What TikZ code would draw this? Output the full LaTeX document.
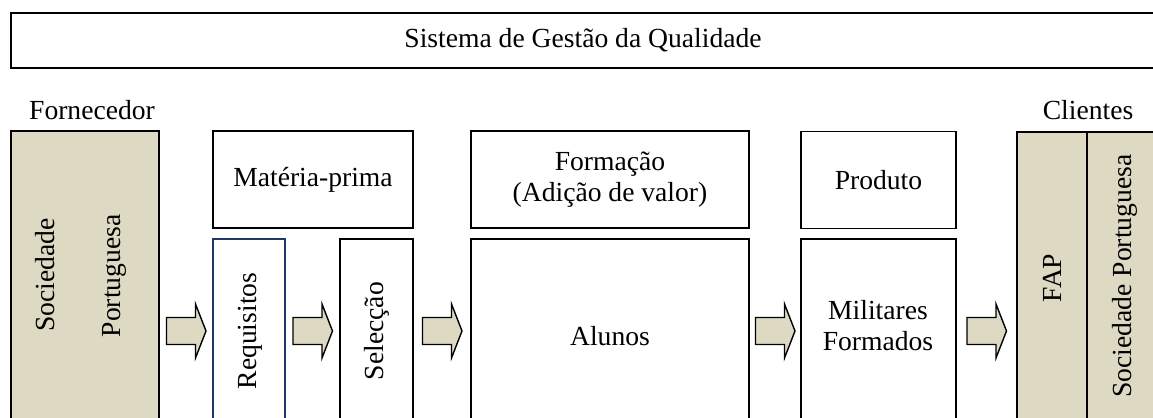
\documentclass[tikz,border=0pt]{standalone}
\usepackage{fontspec}
\setmainfont{Liberation Serif}
\usetikzlibrary{calc}

\definecolor{beige}{RGB}{221,217,195}
\definecolor{navy}{RGB}{31,56,100}

\tikzset{flowarrow/.pic={\draw[flow] (-19.5,-13.5) -- (9.5,-13.5) -- (9.5,-27) -- (20,0) -- (9.5,27) -- (9.5,13.5) -- (-19.5,13.5) -- cycle;}}

\begin{document}
\begin{tikzpicture}[x=0.5pt, y=-0.5pt, every node/.style={font=\fontsize{13.8}{15.5}\selectfont},
	box/.style={draw, line width=0.7pt, inner sep=0pt, align=center},
	client/.style={box, fill=beige},
	lbl/.style={align=center, inner sep=0pt},
	flow/.style={draw, line width=0.7pt, fill=beige, line join=miter}]
	\useasboundingbox (0,0) rectangle (1153,418);
	\clip (0,0) rectangle (1153,418);

	% Nodes
	\node[box, minimum width=572pt, minimum height=27.5pt] (sgq) at (583,40.5) {Sistema de Gestão da Qualidade};

	\node[lbl] (fornT) at (92,110) {Fornecedor};
	\node[client, minimum width=74pt, minimum height=200pt] (forn) at (85,331) {};
	\node[lbl, rotate=90] (soc) at (45,275) {Sociedade};
	\node[lbl, rotate=90] (port) at (114,276) {Portuguesa};

	\node[box, minimum width=100pt, minimum height=48.5pt] (materia) at (313,179.5) {Matéria-prima};
	\node[box, draw=navy, minimum width=36pt, minimum height=92pt] (req) at (249,331) {};
	\node[lbl, rotate=90] (reqT) at (250,331) {Requisitos};
	\node[box, minimum width=36.5pt, minimum height=92pt] (sel) at (376.5,331) {};
	\node[lbl, rotate=90] (selT) at (377,331) {Selecção};

	\node[box, minimum width=139pt, minimum height=48.5pt] (form) at (610,179.5) {Formação\\(Adição de valor)};
	\node[box, minimum width=139pt, minimum height=92pt] (alunos) at (610,331) {};
	\node[lbl] (alunosT) at (610,336) {Alunos};

	\node[box, minimum width=77.5pt, minimum height=48.5pt] (prod) at (878.5,180) {Produto};
	\node[box, minimum width=77.5pt, minimum height=92pt] (milit) at (878.5,331) {};
	\node[lbl] (militT) at (878,326) {Militares\\Formados};

	\node[lbl] (cliT) at (1088,110) {Clientes};
	\node[client, minimum width=35pt, minimum height=199pt] (fap) at (1052,331) {};
	\node[client, minimum width=39pt, minimum height=199pt] (socp) at (1126,331) {};
	\node[lbl, rotate=90] (fapT) at (1052,278) {FAP};
	\node[lbl, rotate=90] (socpT) at (1125,276) {Sociedade Portuguesa};

	% Links
	\foreach \a/\b in {forn/req, req/sel, sel/alunos, alunos/milit, milit/fap}
		\pic at ($(\a.east)!0.5!(\b.west)$) {flowarrow};
\end{tikzpicture}
\end{document}
